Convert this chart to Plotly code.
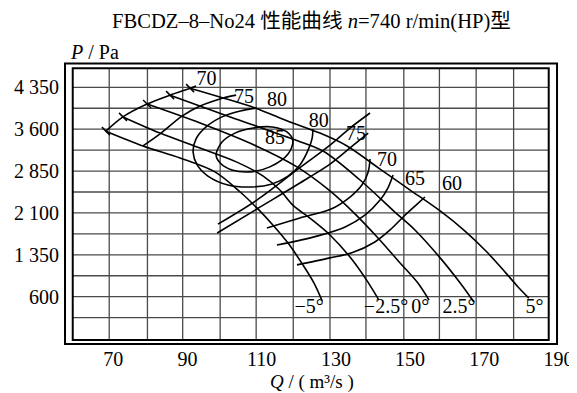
import plotly.graph_objects as go

# ---------------- data ----------------
# P-Q curves for the blade angles
ANGLE_LABELS = ["−5°", "−2.5°", "0°", "2.5°", "5°"]
Q_M5 = [68.0, 78.0, 88.0, 97.4, 104.2, 108.7, 113.0, 117.1, 121.1, 124.1, 126.3]
P_M5 = [3565, 3300, 3085, 2835, 2475, 2190, 1885, 1560, 1170, 845, 525]
Q_M25 = [72.6, 82.6, 92.6, 103.3, 110.4, 114.9, 118.4, 123.6, 128.4, 133.8, 138.1, 141.6]
P_M25 = [3820, 3530, 3280, 3010, 2760, 2510, 2240, 1975, 1705, 1310, 915, 540]
Q_0 = [79.1, 93.4, 108.5, 119.5, 128.4, 135.2, 141.1, 147.3, 152.1, 155.1]
P_0 = [4050, 3710, 3300, 2925, 2495, 2080, 1670, 1205, 845, 540]
Q_P25 = [85.3, 101.5, 117.6, 126.5, 136.5, 145.9, 151.3, 158.1, 163.5, 167.2]
P_P25 = [4210, 3820, 3440, 3210, 2690, 2115, 1795, 1295, 845, 505]
Q_P5 = [90.7, 99.6, 108.2, 117.6, 125.7, 133.0, 141.9, 150.0, 158.1, 164.8,
        170.7, 175.6, 179.1, 182.0]
P_P5 = [4335, 4160, 3980, 3730, 3530, 3300, 2885, 2510, 2135, 1775,
        1400, 1040, 775, 575]

# stall boundary (70 % branch) with the start points of the P-Q curves
Q_STALL = [68.0, 72.6, 79.1, 85.3, 90.7, 92.3]
P_STALL = [3565, 3820, 4050, 4210, 4335, 4375]

# iso-efficiency curves
Q_EFF75_L = [78.0, 82.6, 88.5, 93.4, 99.6, 103.1]
P_EFF75_L = [3300, 3515, 3835, 4015, 4160, 4210]
Q_EFF80 = [108.7, 104.2, 99.3, 95.0, 92.3, 91.5, 92.6, 95.5, 100.9, 107.4,
           112.8, 117.1, 120.3, 122.5, 123.6, 123.8]
P_EFF80 = [3980, 3925, 3820, 3640, 3425, 3190, 2960, 2760, 2600, 2565,
           2620, 2760, 2960, 3225, 3440, 3605]
Q_EFF85 = [97.7, 99.3, 102.8, 107.7, 112.8, 116.8, 118.4, 117.1, 112.2, 106.8,
           102.0, 98.8, 97.7]
P_EFF85 = [3140, 3370, 3530, 3620, 3640, 3550, 3390, 3155, 2925, 2835,
           2870, 2995, 3140]
Q_E1 = [98.2, 108.7, 119.5, 128.4, 133.8, 139.2]
P_E1 = [1900, 2330, 2870, 3315, 3620, 3890]
Q_E2 = [98.0, 108.7, 122.5, 128.4, 133.8, 138.7]
P_E2 = [1740, 2170, 2725, 2975, 3265, 3530]
Q_E70 = [111.4, 120.3, 128.7, 133.8, 137.0, 138.7, 139.2]
P_E70 = [1830, 2010, 2170, 2385, 2600, 2835, 3065]
Q_E65 = [114.1, 124.9, 132.5, 137.9, 141.9, 144.0, 145.4]
P_E65 = [1525, 1685, 1850, 2065, 2330, 2545, 2780]
Q_E60 = [119.5, 128.4, 134.3, 140.5, 144.6, 148.4, 151.6, 154.0]
P_E60 = [1170, 1295, 1385, 1580, 1795, 2045, 2240, 2385]

EFF_LABELS = ["70", "75", "80", "85", "80", "75", "70", "65", "60"]
EFF_LABEL_Q = [95.1, 105.2, 114.1, 113.6, 125.4, 135.4, 143.8, 151.3, 161.3]
EFF_LABEL_P = [4490, 4167, 4113, 3433, 3734, 3496, 3039, 2690, 2600]
ANGLE_LABEL_Q = [122.8, 143.5, 152.7, 163.2, 183.5]
ANGLE_LABEL_P = [400, 400, 400, 400, 400]

X_TICKS = [70, 90, 110, 130, 150, 170, 190]
Y_TICKS = [600, 1350, 2100, 2850, 3600, 4350]
Y_TICKTEXT = ["600", "1 350", "2 100", "2 850", "3 600", "4 350"]

# grid / frame positions (axis units)
GRID_Q = [68.9, 79.2, 88.7, 98.8, 108.5, 118.5, 128.4, 138.1, 148.3, 157.9, 167.8, 177.9]
GRID_P = [225, 600, 975, 1350, 1725, 2100, 2475, 2850, 3225, 3600, 3975, 4350]
INNER = dict(x0=59.06, x1=187.36, y0=-175, y1=4690)
OUTER = dict(x0=56.98, x1=189.6, y0=-247, y1=4778)

FONT = "Liberation Serif, Times New Roman, Noto Sans CJK SC, serif"
LINE = dict(color="black", width=1.6, shape="spline", smoothing=0.9)

fig = go.Figure()

curves = [
    (Q_M5, P_M5), (Q_M25, P_M25), (Q_0, P_0), (Q_P25, P_P25), (Q_P5, P_P5),
    (Q_STALL, P_STALL), (Q_EFF75_L, P_EFF75_L), (Q_EFF80, P_EFF80),
    (Q_EFF85, P_EFF85), (Q_E1, P_E1), (Q_E2, P_E2), (Q_E70, P_E70),
    (Q_E65, P_E65), (Q_E60, P_E60),
]
for q, p in curves:
    fig.add_trace(go.Scatter(x=q, y=p, mode="lines", line=LINE,
                             hoverinfo="skip", showlegend=False))

# small ticks on the stall line
fig.add_trace(go.Scatter(x=Q_STALL[:5], y=P_STALL[:5], mode="markers",
                         marker=dict(symbol="line-nw", size=8,
                                     line=dict(color="black", width=1.5)),
                         hoverinfo="skip", showlegend=False))

fig.add_trace(go.Scatter(x=EFF_LABEL_Q, y=EFF_LABEL_P, mode="text",
                         text=EFF_LABELS,
                         textfont=dict(family=FONT, size=20, color="black"),
                         hoverinfo="skip", showlegend=False))
fig.add_trace(go.Scatter(x=ANGLE_LABEL_Q, y=ANGLE_LABEL_P, mode="text",
                         text=ANGLE_LABELS,
                         textfont=dict(family=FONT, size=20, color="black"),
                         hoverinfo="skip", showlegend=False))

shapes = []
for q in GRID_Q:
    shapes.append(dict(type="line", xref="x", yref="y", x0=q, x1=q,
                       y0=INNER["y0"], y1=INNER["y1"], layer="below",
                       line=dict(color="#4a4a4a", width=1.3)))
for p in GRID_P:
    shapes.append(dict(type="line", xref="x", yref="y", x0=INNER["x0"],
                       x1=INNER["x1"], y0=p, y1=p, layer="below",
                       line=dict(color="#4a4a4a", width=1.3)))
shapes.append(dict(type="rect", xref="x", yref="y", layer="above",
                   line=dict(color="black", width=2), **INNER))
shapes.append(dict(type="rect", xref="x", yref="y", layer="above",
                   line=dict(color="black", width=2), **OUTER))

# the page shows the figure 8 px in from the top-left corner
OFF = 8
W, H = 577 - OFF, 393 - OFF
L, R, T, B = 60 - OFF, 15, 58 - OFF, 45
pw, ph = W - L - R, H - T - B


def px_to_paper(px, py):
    return (px - OFF - L) / pw, (H - B - (py - OFF)) / ph


tx, ty = px_to_paper(311.6, 21.7)
ax_x, ax_y = px_to_paper(68, 51.7)
qx, qy = px_to_paper(312, 381.5)

fig.update_layout(
    width=W, height=H,
    margin=dict(l=L, r=R, t=T, b=B, pad=0, autoexpand=False),
    paper_bgcolor="white", plot_bgcolor="white",
    shapes=shapes,
    font=dict(family=FONT, size=20, color="black"),
    xaxis=dict(range=[55.63, 190.94], tickvals=X_TICKS,
               ticktext=[str(v) for v in X_TICKS], showgrid=False,
               zeroline=False, showline=False, ticks="", automargin=False,
               ticklabelstandoff=-3,
               tickfont=dict(family=FONT, size=20, color="black")),
    yaxis=dict(range=[-319, 4875], tickvals=Y_TICKS, ticktext=Y_TICKTEXT,
               showgrid=False, zeroline=False, showline=False, ticks="",
               automargin=False,
               tickfont=dict(family=FONT, size=20, color="black")),
    annotations=[
        dict(xref="paper", yref="paper", x=tx, y=ty, xanchor="center",
             yanchor="middle", showarrow=False,
             text="FBCDZ–8–No24 性能曲线 <i>n</i>=740 r/min(HP)型",
             font=dict(family=FONT, size=20.6, color="black")),
        dict(xref="paper", yref="paper", x=ax_x, y=ax_y, xanchor="left",
             yanchor="middle", showarrow=False, text="<i>P</i> / Pa",
             font=dict(family=FONT, size=20, color="black")),
        dict(xref="paper", yref="paper", x=qx, y=qy, xanchor="center",
             yanchor="middle", showarrow=False, text="<i>Q</i> / ( m³/s )",
             font=dict(family=FONT, size=19, color="black")),
    ],
)

fig.write_html("out.html")
